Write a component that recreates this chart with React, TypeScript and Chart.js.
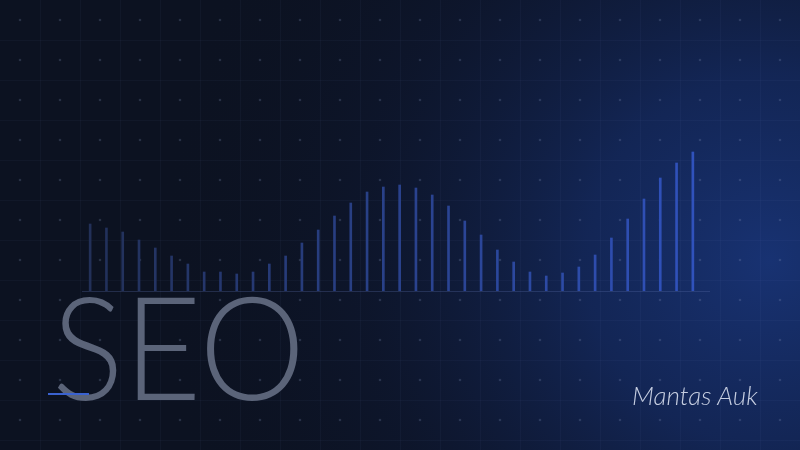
import React, { useEffect, useRef } from "react";
import { Chart, registerables } from "chart.js";

Chart.register(...registerables);

const categories = [
  "1", "2", "3", "4", "5", "6", "7", "8", "9", "10",
  "11", "12", "13", "14", "15", "16", "17", "18", "19", "20",
  "21", "22", "23", "24", "25", "26", "27", "28", "29", "30",
  "31", "32", "33", "34", "35", "36", "37", "38",
];

const values = [
  67, 63, 59, 51, 43, 35, 27, 19, 19, 17,
  19, 27, 35, 48, 61, 75, 88, 99, 104, 106,
  103, 96, 85, 70, 56, 41, 29, 19, 15, 18,
  24, 36, 53, 72, 92, 113, 128, 139,
];

const titleText = "SEO";
const signatureText = "Mantas Auk";

const backgroundPlugin = {
  id: "seoBackground",
  beforeDraw(chart: any) {
    const { ctx, width, height } = chart;
    ctx.save();
    ctx.fillStyle = "#0c1221";
    ctx.fillRect(0, 0, width, height);
    const rg = ctx.createRadialGradient(770, 260, 0, 770, 260, 620);
    rg.addColorStop(0, "rgba(24,50,114,1)");
    rg.addColorStop(0.3, "rgba(20,41,94,0.85)");
    rg.addColorStop(0.65, "rgba(15,26,56,0.45)");
    rg.addColorStop(1, "rgba(12,18,33,0)");
    ctx.fillStyle = rg;
    ctx.fillRect(0, 0, width, height);
    // grid lines
    ctx.strokeStyle = "rgba(130,160,230,0.045)";
    ctx.lineWidth = 1;
    ctx.beginPath();
    for (let x = 40; x < width; x += 40) {
      ctx.moveTo(x + 0.5, 0);
      ctx.lineTo(x + 0.5, height);
    }
    for (let y = 40; y < height; y += 40) {
      ctx.moveTo(0, y + 0.5);
      ctx.lineTo(width, y + 0.5);
    }
    ctx.stroke();
    // dots
    ctx.fillStyle = "rgba(140,155,195,0.22)";
    for (let x = 20; x < width; x += 40) {
      for (let y = 20; y < height; y += 40) {
        ctx.beginPath();
        ctx.arc(x, y, 1.3, 0, Math.PI * 2);
        ctx.fill();
      }
    }
    ctx.restore();
  },
  beforeDatasetsDraw(chart: any) {
    const { ctx, chartArea, scales } = chart;
    const y0 = scales.y.getPixelForValue(0);
    ctx.save();
    ctx.strokeStyle = "rgba(90,110,170,0.3)";
    ctx.lineWidth = 1;
    ctx.beginPath();
    ctx.moveTo(chartArea.left, Math.round(y0) + 0.5);
    ctx.lineTo(chartArea.right + 9, Math.round(y0) + 0.5);
    ctx.stroke();
    ctx.restore();
  },
};

export default function App() {
  const canvasRef = useRef<HTMLCanvasElement | null>(null);

  useEffect(() => {
    const canvas = canvasRef.current;
    if (!canvas) return;
    const n = values.length;
    const chart = new Chart(canvas, {
      type: "bar",
      data: {
        labels: categories,
        datasets: [
          {
            data: values,
            barThickness: 2,
            borderWidth: 0,
            backgroundColor: (c: any) => {
              const t = c.dataIndex / (n - 1);
              const r = Math.round(34 + (48 - 34) * t);
              const g = Math.round(48 + (82 - 48) * t);
              const b = Math.round(88 + (188 - 88) * t);
              return `rgb(${r},${g},${b})`;
            },
          },
        ],
      },
      options: {
        responsive: false,
        animation: false,
        layout: { padding: { left: 82, right: 99, top: 91, bottom: 159 } },
        plugins: { legend: { display: false }, tooltip: { enabled: false } },
        scales: {
          x: { display: false, grid: { display: false } },
          y: { display: false, min: 0, max: 200, grid: { display: false } },
        },
      },
      plugins: [backgroundPlugin],
    });
    return () => chart.destroy();
  }, []);

  return (
    <div
      style={{
        position: "fixed",
        left: 0,
        top: 0,
        width: 800,
        height: 450,
        overflow: "hidden",
      }}
    >
      <canvas ref={canvasRef} width={800} height={450} style={{ display: "block" }} />
      <div
        style={{
          position: "absolute",
          left: 52,
          top: 273,
          fontFamily: "Lato, 'Open Sans', sans-serif",
          fontWeight: 300,
          fontSize: 144,
          lineHeight: "144px",
          letterSpacing: 0,
          color: "#5b6479",
          whiteSpace: "nowrap",
          transform: "scaleX(0.93)",
          transformOrigin: "0 0",
        }}
      >
        {titleText}
      </div>
      <div
        style={{
          position: "absolute",
          left: 48,
          top: 393,
          width: 41,
          height: 2,
          background: "#3a62d0",
        }}
      />
      <div
        style={{
          position: "absolute",
          left: 632,
          top: 380,
          fontFamily: "Lato, sans-serif",
          fontStyle: "italic",
          fontWeight: 300,
          fontSize: 26,
          lineHeight: "30px",
          color: "#c5cde0",
          whiteSpace: "nowrap",
        }}
      >
        {signatureText}
      </div>
    </div>
  );
}
